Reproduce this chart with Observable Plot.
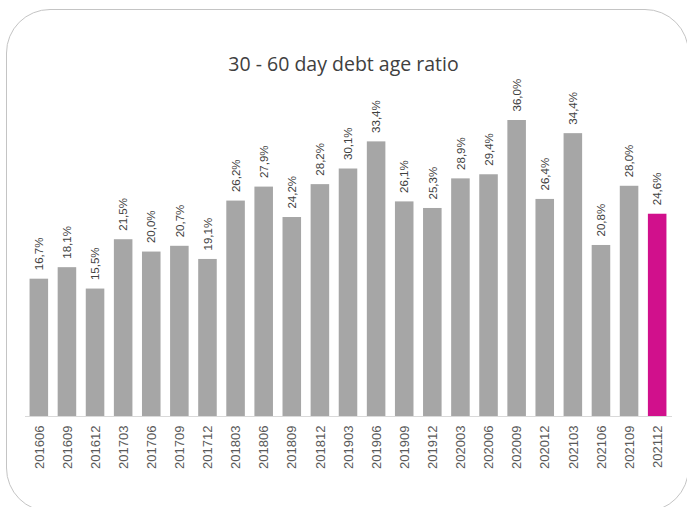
<!DOCTYPE html>
<html>
<head>
<meta charset="utf-8">
<script src="https://cdn.jsdelivr.net/npm/d3@7"></script>
<script src="https://cdn.jsdelivr.net/npm/@observablehq/plot@0.6"></script>
<style>
  html, body { margin: 0; padding: 0; background: #fff; }
  #wrap { position: relative; width: 687px; height: 507px; overflow: hidden; }
  #frame { position: absolute; left: 6px; top: 9px; width: 683px; height: 503px; border: 1px solid #c4c4c4; border-radius: 44px; box-sizing: border-box; }
  #title { position: absolute; left: 0; top: 50px; width: 687px; text-align: center; font-family: "Open Sans", sans-serif; font-size: 19.5px; color: #404040; }
  #chart { position: absolute; left: 0; top: 0; width: 687px; height: 507px; }
</style>
</head>
<body>
<div id="wrap">
  <div id="frame"></div>
  <div id="title">30 - 60 day debt age ratio</div>
  <div id="chart"></div>
</div>
<script>
const periods = ["201606","201609","201612","201703","201706","201709","201712","201803","201806","201809","201812","201903","201906","201909","201912","202003","202006","202009","202012","202103","202106","202109","202112"];
const values = [16.7,18.1,15.5,21.5,20.0,20.7,19.1,26.2,27.9,24.2,28.2,30.1,33.4,26.1,25.3,28.9,29.4,36.0,26.4,34.4,20.8,28.0,24.6];
const highlight = "202112";

const data = periods.map((p, i) => ({period: p, value: values[i]}));
const fmt = v => v.toFixed(1).replace(".", ",") + "%";

const chart = Plot.plot({
  width: 687,
  height: 507,
  marginTop: 120,
  marginBottom: 91,
  marginLeft: 20,
  marginRight: 11,
  style: {background: "transparent", fontFamily: "'Liberation Sans', Arial, sans-serif"},
  x: {domain: periods, padding: 0.34, round: false, label: null},
  y: {domain: [0, 36], axis: null},
  marks: [
    Plot.barY(data, {x: "period", y: "value", fill: d => d.period === highlight ? "#d1108c" : "#a6a6a6"}),
    Plot.ruleY([0], {stroke: "#d9d9d9", strokeWidth: 1, insetLeft: 5, insetRight: 4}),
    Plot.text(data, {x: "period", y: "value", text: d => fmt(d.value), rotate: -90, textAnchor: "start", lineAnchor: "middle", dy: -9, fontSize: 11.5, fill: "#404040"}),
    Plot.axisX({tickRotate: -90, tickSize: 0, tickPadding: 9, fontSize: 13, color: "#595959", label: null})
  ]
});
document.getElementById("chart").appendChild(chart);
</script>
</body>
</html>
